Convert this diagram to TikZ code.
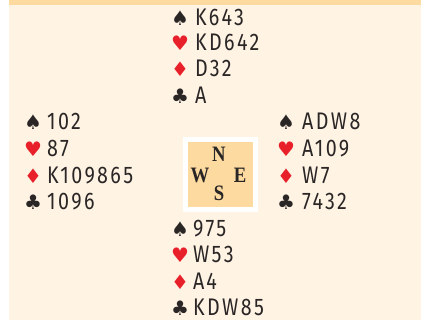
\documentclass[tikz,border=0pt]{standalone}
\usepackage{fontspec}
\usepackage{xcolor}
\setmainfont{Fira Sans}[LetterSpace=10,FakeStretch=0.82]
\newfontfamily\suitfont{DejaVu Sans}
\newfontfamily\compassfont{Liberation Serif}[FakeStretch=0.85]
\definecolor{cream}{HTML}{FFF3E4}
\definecolor{bandorange}{HTML}{FDDBA0}
\definecolor{suitred}{HTML}{E8202A}
\definecolor{ink}{HTML}{2A2626}
\usetikzlibrary{positioning}

\begin{document}
\begin{tikzpicture}[
x=1pt,y=-1pt,
suitsym/.style={anchor=base west,inner sep=0pt,font=\suitfont\fontsize{20}{20}\selectfont},
redsym/.style={suitsym,text=suitred},
blacksym/.style={suitsym,text=ink},
cards/.style={anchor=base west,inner sep=0pt,text=ink,font=\fontsize{24}{24}\selectfont},
compass/.style={inner sep=0pt,text=ink,font=\compassfont\bfseries\fontsize{22}{22}\selectfont}
]
\useasboundingbox (0,0) rectangle (421,320);
\fill[cream] (8.5,0) rectangle (421,320);
\fill[bandorange] (8.5,0) rectangle (421,5);

% North
\node[blacksym] (ns) at (171,26) {♠};
\node[cards] (nst) at (195,26) {K643};
\node[redsym] (nh) at (171,51) {♥};
\node[cards] (nht) at (195,51) {KD642};
\node[redsym] (nd) at (171,77) {♦};
\node[cards] (ndt) at (195,77) {D32};
\node[blacksym] (nc) at (171,104) {♣};
\node[cards] (nct) at (195,104) {A};

% West
\node[blacksym] (ws) at (24,130) {♠};
\node[cards] (wst) at (47,130) {102};
\node[redsym] (wh) at (24,157) {♥};
\node[cards] (wht) at (47,157) {87};
\node[redsym] (wd) at (24,184) {♦};
\node[cards] (wdt) at (47,184) {K109865};
\node[blacksym] (wc) at (24,210) {♣};
\node[cards] (wct) at (47,210) {1096};

% East
\node[blacksym] (es) at (277,130) {♠};
\node[cards] (est) at (302,130) {ADW8};
\node[redsym] (eh) at (277,157) {♥};
\node[cards] (eht) at (302,157) {A109};
\node[redsym] (ed) at (277,184) {♦};
\node[cards] (edt) at (302,184) {W7};
\node[blacksym] (ec) at (277,210) {♣};
\node[cards] (ect) at (302,210) {7432};

% South
\node[blacksym] (ss) at (171,237) {♠};
\node[cards] (sst) at (193,237) {975};
\node[redsym] (sh) at (171,263) {♥};
\node[cards] (sht) at (193,263) {W53};
\node[redsym] (sd) at (171,290) {♦};
\node[cards] (sdt) at (193,290) {A4};
\node[blacksym] (sc) at (171,316) {♣};
\node[cards] (sct) at (193,316) {KDW85};

% compass
\node[draw=white,line width=5pt,fill=bandorange,minimum width=70pt,minimum height=70pt,inner sep=0pt] (table) at (220,175) {};
\node[compass] (cn) at (219,154) {N};
\node[compass] (cw) at (200,175) {W};
\node[compass] (ce) at (240,175) {E};
\node[compass] (cs) at (219,193) {S};
\end{tikzpicture}
\end{document}
